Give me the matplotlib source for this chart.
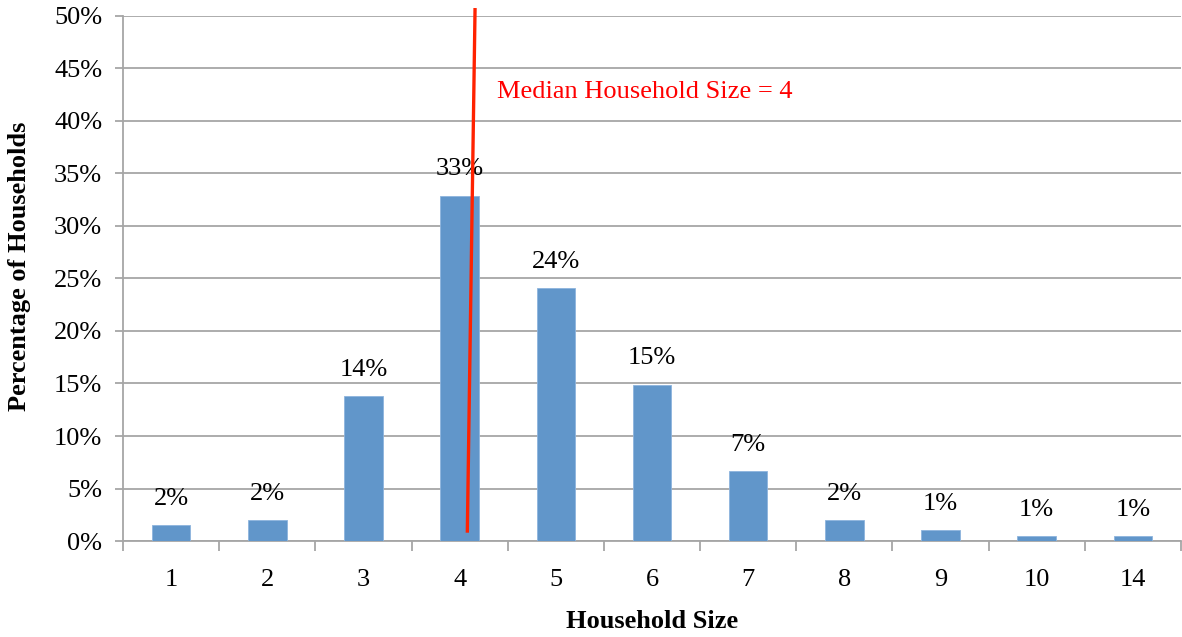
import numpy as np
import matplotlib
matplotlib.use("Agg")
import matplotlib.pyplot as plt
from matplotlib.ticker import FuncFormatter, FixedLocator

# household size distribution (percent of households)
sizes = ["1", "2", "3", "4", "5", "6", "7", "8", "9", "10", "14"]
shares = [1.5, 2.0, 13.8, 32.9, 24.1, 14.9, 6.7, 2.0, 1.05, 0.5, 0.5]
labels = ["2%", "2%", "14%", "33%", "24%", "15%", "7%", "2%", "1%", "1%", "1%"]

median_label = "Median Household Size = 4"
median_line_x = [3.16, 3.08]
median_line_y = [50.6, 0.95]

plt.rcParams['font.family'] = ['Liberation Serif', 'DejaVu Serif']
FS = 19

fig = plt.figure(figsize=(11.82, 6.37), dpi=100)
ax = fig.add_axes([0.1041, 0.1507, 0.895, 0.8242])

x = np.arange(len(sizes))
bars = ax.bar(x, shares, width=0.4, color='#6196CA', edgecolor='#8DB4DD',
              linewidth=0.6, zorder=3)

for xi, v, lab in zip(x, shares, labels):
    ax.annotate(lab, (xi, v), xytext=(0, 14.5), textcoords='offset points',
                ha='center', va='baseline', fontsize=FS, color='black', zorder=4)

ax.set_xlim(-0.5, len(sizes) - 0.5)
ax.set_ylim(0, 50)

ax.yaxis.set_major_locator(FixedLocator(np.arange(0, 51, 5)))
ax.yaxis.set_major_formatter(FuncFormatter(lambda v, p: f"{int(v)}%"))
ax.grid(axis='y', color='#A6A6A6', linewidth=1.3, zorder=0)
ax.set_axisbelow(True)

# ticks at category boundaries, labels at centres
ax.xaxis.set_major_locator(FixedLocator(np.arange(-0.5, len(sizes), 1.0)))
ax.xaxis.set_major_formatter(FuncFormatter(lambda v, p: ""))
ax.xaxis.set_minor_locator(FixedLocator(x))
ax.set_xticklabels(sizes, minor=True)
ax.tick_params(axis='x', which='major', length=7, width=1.3, color='#A6A6A6', direction='out')
ax.tick_params(axis='x', which='minor', length=0, pad=20, labelsize=FS)
ax.tick_params(axis='y', length=6, width=1.3, color='#A6A6A6', labelsize=FS, pad=9)

for s in ['top', 'right']:
    ax.spines[s].set_visible(False)
for s in ['left', 'bottom']:
    ax.spines[s].set_color('#A6A6A6')
    ax.spines[s].set_linewidth(1.3)

ax.set_xlabel("Household Size", fontsize=FS, fontweight='bold', labelpad=14)
ax.set_ylabel("Percentage of Households", fontsize=FS, fontweight='bold')
ax.yaxis.set_label_coords(-0.087, 0.524)

ax.plot(median_line_x, median_line_y, color='#FF2200', linewidth=2.4,
        clip_on=False, zorder=5)
ax.text(3.39, 42.8, median_label, color='#FF0000', fontsize=FS,
        ha='left', va='center', zorder=5)

fig.savefig("out.png", dpi=100)
